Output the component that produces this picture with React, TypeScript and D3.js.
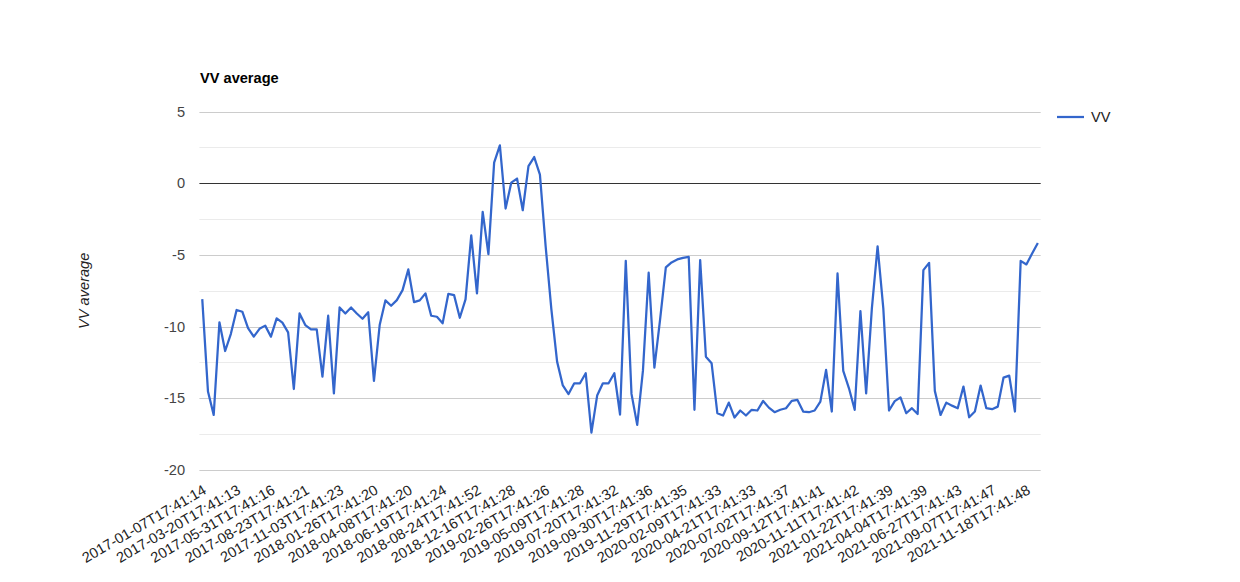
import React, { useEffect, useRef } from 'react';
import * as d3 from 'd3';

// VV average values, one per acquisition
const vvValues: number[] = [
  -8.08, -14.53, -16.16, -9.7, -11.7, -10.5, -8.84, -8.96, -10.1, -10.7,
  -10.15, -9.93, -10.7, -9.42, -9.72, -10.4, -14.35, -9.08, -9.89, -10.19,
  -10.19, -13.49, -9.24, -14.65, -8.66, -9.08, -8.66, -9.08, -9.45, -9.0,
  -13.79, -9.89, -8.17, -8.54, -8.15, -7.45, -6.01, -8.29, -8.17, -7.68,
  -9.24, -9.31, -9.77, -7.71, -7.8, -9.38, -8.1, -3.64, -7.68, -2.0,
  -4.94, 1.44, 2.65, -1.76, 0.05, 0.33, -1.88, 1.2, 1.83, 0.6,
  -4.4, -8.8, -12.44, -14.1, -14.7, -13.95, -13.95, -13.25, -17.39, -14.81,
  -13.95, -13.95, -13.25, -16.13, -5.41, -14.69, -16.85, -13.07, -6.24, -12.86,
  -9.5, -5.87, -5.52, -5.31, -5.2, -5.13, -15.8, -5.36, -12.1, -12.56,
  -16.04, -16.2, -15.3, -16.34, -15.85, -16.2, -15.8, -15.85, -15.18, -15.65,
  -15.97, -15.8, -15.69, -15.18, -15.11, -15.92, -15.97, -15.85, -15.23, -13.02,
  -15.92, -6.29, -13.09, -14.3, -15.8, -8.91, -14.65, -8.73, -4.4, -8.73,
  -15.85, -15.2, -14.93, -16.04, -15.69, -16.09, -6.06, -5.55, -14.48, -16.16,
  -15.3, -15.51, -15.69, -14.18, -16.32, -15.92, -14.11, -15.69, -15.76, -15.58,
  -13.56, -13.42, -15.92, -5.41, -5.66, -4.9, -4.16,
];

// dates shown on the x axis (every 6th acquisition)
const tickLabels: string[] = [
  '2017-01-07T17:41:14', '2017-03-20T17:41:13', '2017-05-31T17:41:16',
  '2017-08-23T17:41:21', '2017-11-03T17:41:23', '2018-01-26T17:41:20',
  '2018-04-08T17:41:20', '2018-06-19T17:41:24', '2018-08-24T17:41:52',
  '2018-12-16T17:41:28', '2019-02-26T17:41:26', '2019-05-09T17:41:28',
  '2019-07-20T17:41:32', '2019-09-30T17:41:36', '2019-11-29T17:41:35',
  '2020-02-09T17:41:33', '2020-04-21T17:41:33', '2020-07-02T17:41:37',
  '2020-09-12T17:41:41', '2020-11-11T17:41:42', '2021-01-22T17:41:39',
  '2021-04-04T17:41:39', '2021-06-27T17:41:43', '2021-09-07T17:41:47',
  '2021-11-18T17:41:48',
];
const tickEvery = 6;

const majorTicks = [5, 0, -5, -10, -15, -20];
const minorTicks = [2.5, -2.5, -7.5, -12.5, -17.5];

const App: React.FC = () => {
  const svgRef = useRef<SVGSVGElement>(null);

  useEffect(() => {
    const svg = d3.select(svgRef.current);
    svg.selectAll('*').remove();

    const font = '"Liberation Sans", Arial, sans-serif';
    const fs = 14.6;
    const left = 199.4, right = 1040.7, top = 111.6, bottom = 470;

    const xScale = d3.scalePoint<number>()
      .domain(d3.range(vvValues.length))
      .range([left, right])
      .padding(0.5);

    const yScale = d3.scaleLinear().domain([-20, 5]).range([bottom, top]);

    // minor grid
    svg.append('g')
      .selectAll('line')
      .data(minorTicks)
      .enter()
      .append('line')
      .attr('x1', left).attr('x2', right)
      .attr('y1', d => Math.round(yScale(d)) + 0.5)
      .attr('y2', d => Math.round(yScale(d)) + 0.5)
      .attr('stroke', '#ebebeb')
      .attr('stroke-width', 1);

    // major grid
    svg.append('g')
      .selectAll('line')
      .data(majorTicks.filter(d => d !== 0))
      .enter()
      .append('line')
      .attr('x1', left).attr('x2', right)
      .attr('y1', d => Math.round(yScale(d)) + 0.5)
      .attr('y2', d => Math.round(yScale(d)) + 0.5)
      .attr('stroke', '#cccccc')
      .attr('stroke-width', 1);

    // y tick labels
    svg.append('g')
      .selectAll('text')
      .data(majorTicks)
      .enter()
      .append('text')
      .attr('x', 185)
      .attr('y', d => yScale(d) + 5)
      .attr('text-anchor', 'end')
      .style('font-family', font)
      .style('font-size', `${fs}px`)
      .style('fill', '#444')
      .text(d => String(d));

    // baseline at zero
    svg.append('line')
      .attr('x1', left).attr('x2', right)
      .attr('y1', Math.round(yScale(0)) + 0.5)
      .attr('y2', Math.round(yScale(0)) + 0.5)
      .attr('stroke', '#333')
      .attr('stroke-width', 1);

    // series line
    const line = d3.line<number>()
      .x((_, i) => xScale(i) as number)
      .y(d => yScale(d));

    svg.append('path')
      .datum(vvValues)
      .attr('fill', 'none')
      .attr('stroke', '#3366cc')
      .attr('stroke-width', 2.25)
      .attr('stroke-linejoin', 'round')
      .attr('d', line);

    // slanted x labels
    svg.append('g')
      .selectAll('text')
      .data(tickLabels)
      .enter()
      .append('text')
      .attr('transform', (_, i) => {
        const x = (xScale(i * tickEvery) as number) + 5;
        const y = 493;
        return `translate(${x},${y}) rotate(-30)`;
      })
      .attr('text-anchor', 'end')
      .style('font-family', font)
      .style('font-size', `${fs}px`)
      .style('fill', '#222')
      .text(d => d);

    // title
    svg.append('text')
      .attr('x', 200)
      .attr('y', 83)
      .style('font-family', font)
      .style('font-size', `${fs}px`)
      .style('font-weight', 'bold')
      .style('fill', '#000')
      .text('VV average');

    // y axis title
    svg.append('text')
      .attr('transform', `translate(89,${(top + bottom) / 2}) rotate(-90)`)
      .attr('text-anchor', 'middle')
      .style('font-family', font)
      .style('font-size', `${fs}px`)
      .style('font-style', 'italic')
      .style('fill', '#222')
      .text('VV average');

    // legend
    const legend = svg.append('g');
    legend.append('line')
      .attr('x1', 1057).attr('x2', 1084)
      .attr('y1', 117).attr('y2', 117)
      .attr('stroke', '#3366cc')
      .attr('stroke-width', 2.25);
    legend.append('text')
      .attr('x', 1091)
      .attr('y', 122)
      .style('font-family', font)
      .style('font-size', `${fs}px`)
      .style('fill', '#222')
      .text('VV');
  }, []);

  return (
    <div style={{ position: 'absolute', left: 0, top: 0, width: 1240, height: 582, background: '#fff' }}>
      <svg ref={svgRef} width={1240} height={582}></svg>
    </div>
  );
};

export default App;
